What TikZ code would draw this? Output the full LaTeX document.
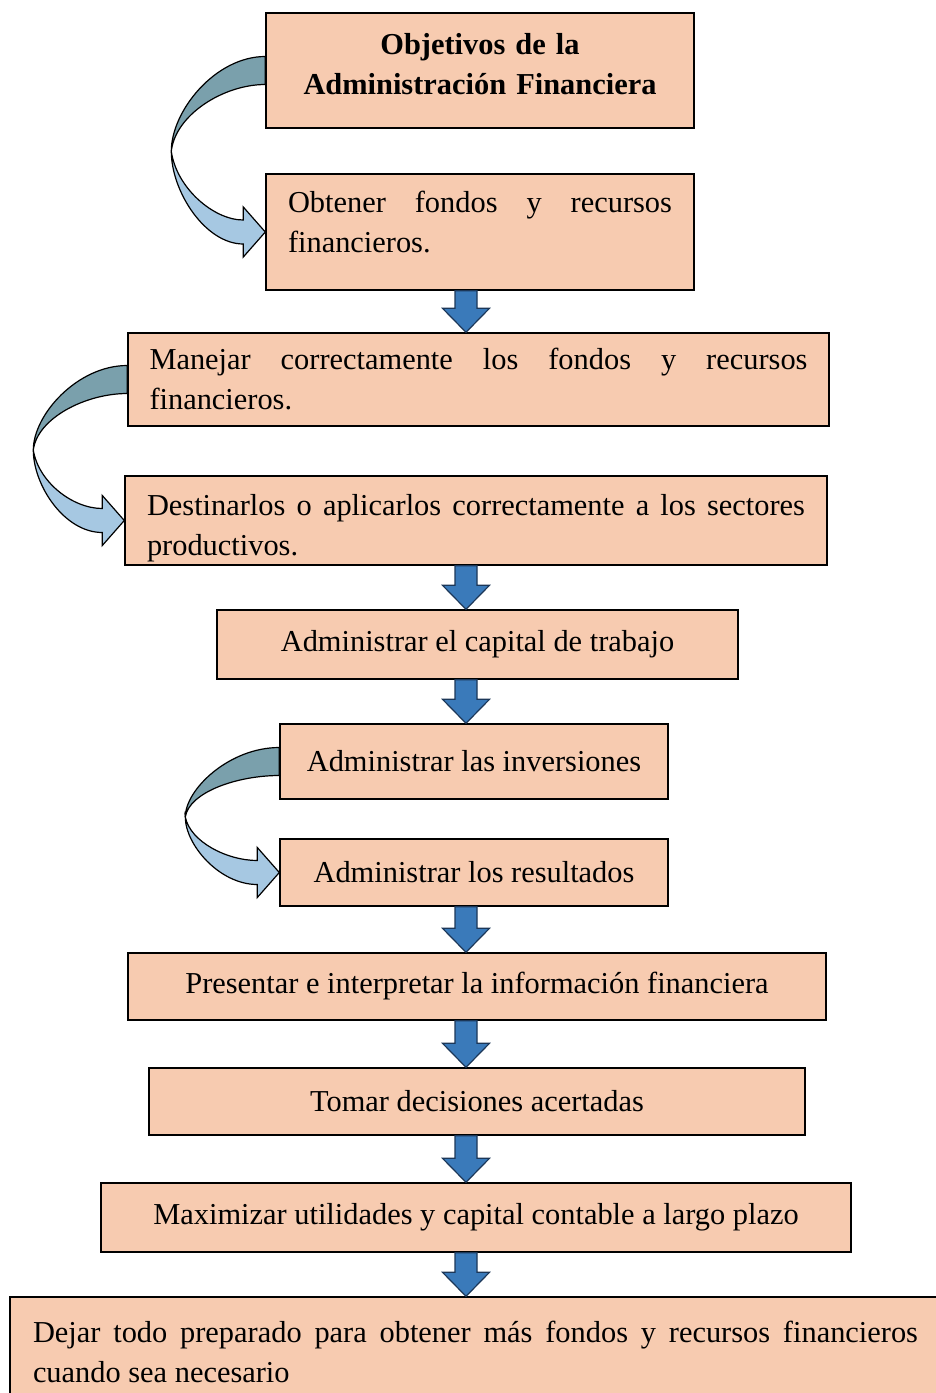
\documentclass[tikz,border=0pt]{standalone}
\usepackage{fontspec}
\setmainfont{Liberation Serif}
\usetikzlibrary{calc}
\definecolor{boxfill}{RGB}{247,203,176}
\definecolor{arrowblue}{RGB}{58,122,186}
\definecolor{arrowedge}{RGB}{28,55,88}
\definecolor{twistdark}{RGB}{122,160,172}
\definecolor{twistlight}{RGB}{166,200,226}
\hyphenpenalty=10000
\tolerance=10000

% block arrow straight down, between two boxes
\newcommand{\blockdown}[2]{%
  \path[blockarrow] let \p1=(#1.south), \p2=(#2.north) in
    (455,\y1) -- (477,\y1) -- (477,{\y2+24}) -- (489.5,{\y2+24}) -- (466,\y2)
    -- (442.5,{\y2+24}) -- (455,{\y2+24}) -- cycle;}

% twisted ribbon arrow on the left side
\newcommand{\twistarrow}[2]{%
  \path[twistband, fill=twistdark] let \p1=(#1.west), \p2=(#2.west),
      \n1={(\y1+\y2)/2}, \n2={\x1-94} in
    (\x1,{\y1+14}) .. controls ({\x1-50},{\y1+14}) and (\n2,{\n1+0.5*(\y1-\n1)}) .. (\n2,\n1)
    .. controls ({\n2+4},{\n1+0.45*(\y1-\n1)}) and ({\x1-42},{\y1-14}) .. (\x1,{\y1-14}) -- cycle;
  \path[twistband, fill=twistlight] let \p1=(#1.west), \p2=(#2.west),
      \n1={(\y1+\y2)/2}, \n2={\x1-94} in
    (\n2,\n1) .. controls (\n2,{\n1-0.5*(\n1-\y2)}) and ({\x2-60},{\y2-12}) .. ({\x2-22},{\y2-12})
    -- ({\x2-22},{\y2-25}) -- (\x2,\y2) -- ({\x2-22},{\y2+25}) -- ({\x2-22},{\y2+12})
    .. controls ({\x2-52},{\y2+12}) and ({\n2+5},{\n1-0.45*(\n1-\y2)}) .. (\n2,\n1) -- cycle;}

\begin{document}
\begin{tikzpicture}[x=1pt, y=1pt,
    box/.style = {draw, fill=boxfill, line width=1.4pt, inner sep=0pt,
                  font=\fontsize{30.4}{40}\selectfont},
    blockarrow/.style = {fill=arrowblue, draw=arrowedge, line width=1.2pt},
    twistband/.style = {draw=black, line width=1.2pt}]
  \useasboundingbox (0,0) rectangle (935,-1393);

  \node[box, minimum width=428, minimum height=115, text width=400, align=center,
        font=\fontsize{30.4}{40}\selectfont\bfseries] (title) at (480,-70.5)
        {Objetivos de la\\ Administración Financiera\rule[-13pt]{0pt}{0pt}};
  \node[box, minimum width=428, minimum height=116, text width=384, align=justify]
        (obtener) at (480,-232) {Obtener fondos y recursos financieros.\rule[-20.5pt]{0pt}{0pt}};

  \node[box, minimum width=701, minimum height=93, text width=658, align=justify]
        (manejar) at (478.5,-379.5) {Manejar correctamente los fondos y recursos financieros.};
  \node[box, minimum width=702, minimum height=89, text width=658, align=justify]
        (destinar) at (476,-520.5) {\rule{0pt}{37pt}Destinarlos o aplicarlos correctamente a los sectores productivos.};

  \node[box, minimum width=521, minimum height=69] (capital) at (477.5,-644.5)
        {Administrar el capital de trabajo};
  \node[box, minimum width=388, minimum height=75] (inversion) at (474,-761.5)
        {Administrar las inversiones};
  \node[box, minimum width=388, minimum height=67] (resultado) at (474,-872.5)
        {Administrar los resultados};
  \node[box, minimum width=698, minimum height=67] (presentar) at (477,-986.5)
        {Presentar e interpretar la información financiera};
  \node[box, minimum width=656, minimum height=67] (decidir) at (477,-1101.5)
        {Tomar decisiones acertadas};
  \node[box, minimum width=750, minimum height=69] (maximizar) at (476,-1217.5)
        {Maximizar utilidades y capital contable a largo plazo};
  \node[box, minimum width=931, minimum height=110, text width=885, align=justify]
        (preparar) at (475.5,-1352)
        {Dejar todo preparado para obtener más fondos y recursos financieros cuando sea necesario};

  \twistarrow{title}{obtener}
  \twistarrow{manejar}{destinar}
  \twistarrow{inversion}{resultado}

  \blockdown{obtener}{manejar}
  \blockdown{destinar}{capital}
  \blockdown{capital}{inversion}
  \blockdown{resultado}{presentar}
  \blockdown{presentar}{decidir}
  \blockdown{decidir}{maximizar}
  \blockdown{maximizar}{preparar}

\end{tikzpicture}
\end{document}
